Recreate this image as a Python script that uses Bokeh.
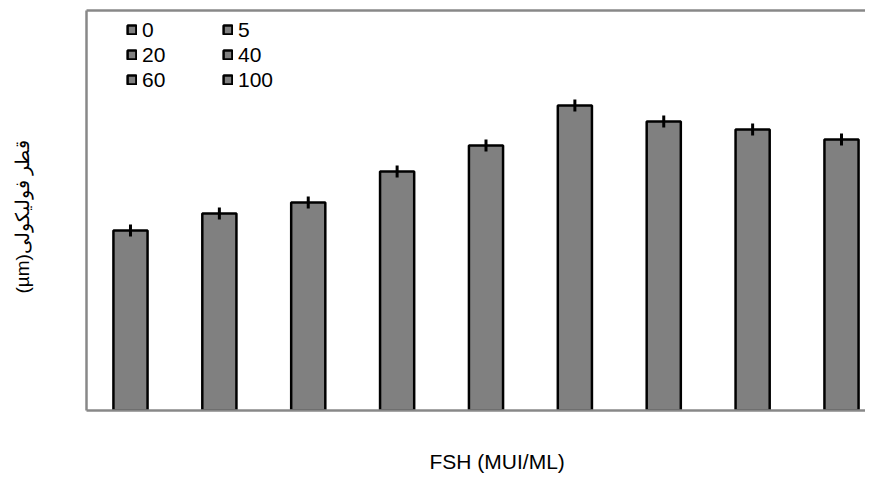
from bokeh.plotting import figure
from bokeh.models import (Range1d, ColumnDataSource, Legend, LegendItem, Title,
                          FixedTicker, LinearAxis)
from bokeh.embed import file_html
from bokeh.resources import INLINE

# ---- data ----
legend_labels = ["0", "5", "20", "40", "60", "100"]
diameter = [180, 197, 208, 239, 265, 305, 289, 281, 271]
error = [6, 6, 6, 6, 6, 6, 6, 6, 6]
x_title = "FSH  (MUI/ML)"
# right-to-left embedding so the Persian title reads as in the original
y_title = "\u202bقطر فولیکولی(µm)\u202c"

positions = list(range(len(diameter)))
src = ColumnDataSource(dict(
    x=positions,
    top=diameter,
    lo=[d - e for d, e in zip(diameter, error)],
    hi=[d + e for d, e in zip(diameter, error)],
))

FONT = "Liberation Sans"
AXIS_GRAY = "#888888"

p = figure(width=865, height=474, output_backend="svg", toolbar_location=None,
           x_range=Range1d(-0.495, 8.27), y_range=Range1d(0, 400),
           min_border_left=86, min_border_right=0, min_border_top=10,
           min_border_bottom=64)
p.outline_line_color = None
p.xgrid.visible = False
p.ygrid.visible = False
p.background_fill_color = "white"
p.border_fill_color = "white"


def style_axis(ax):
    ax.ticker = FixedTicker(ticks=[])
    ax.axis_line_color = AXIS_GRAY
    ax.axis_line_width = 2.5
    ax.major_tick_line_color = None
    ax.minor_tick_line_color = None
    ax.major_tick_out = 0
    ax.major_tick_in = 0
    ax.major_label_standoff = 0
    ax.major_label_text_font_size = "0px"


style_axis(p.xaxis[0])
style_axis(p.yaxis[0])
top_axis = LinearAxis()
style_axis(top_axis)
p.add_layout(top_axis, "above")

bars = p.vbar(x="x", top="top", width=0.384, source=src,
              fill_color="#808080", line_color="black", line_width=2.5)
p.segment(x0="x", y0="lo", x1="x", y1="hi", source=src,
          line_color="black", line_width=3)

items = [LegendItem(label=lab, renderers=[bars], index=i)
         for i, lab in enumerate(legend_labels)]
legend = Legend(items=items, location=(40, 318), orientation="horizontal",
                ncols=2, spacing=0, padding=0, margin=0,
                glyph_width=11, glyph_height=11, label_standoff=5,
                label_width=80, label_height=25,
                label_text_font=FONT, label_text_font_size="21px",
                label_text_color="black",
                border_line_color=None, background_fill_alpha=0)
p.add_layout(legend, "center")

# blank spacers push the axis titles away from the plot frame
p.add_layout(Title(text=" ", text_font_size="1px", standoff=33), "below")
p.add_layout(Title(text=x_title, align="left", offset=343, standoff=2,
                   text_font=FONT, text_font_size="21px",
                   text_font_style="normal", text_color="black"), "below")
p.add_layout(Title(text=" ", text_font_size="1px", standoff=51), "left")
p.add_layout(Title(text=y_title, align="left", offset=117, standoff=0,
                   text_font=FONT, text_font_size="19px",
                   text_font_style="normal", text_color="black"), "left")

open("out.html", "w").write(file_html(p, INLINE))
